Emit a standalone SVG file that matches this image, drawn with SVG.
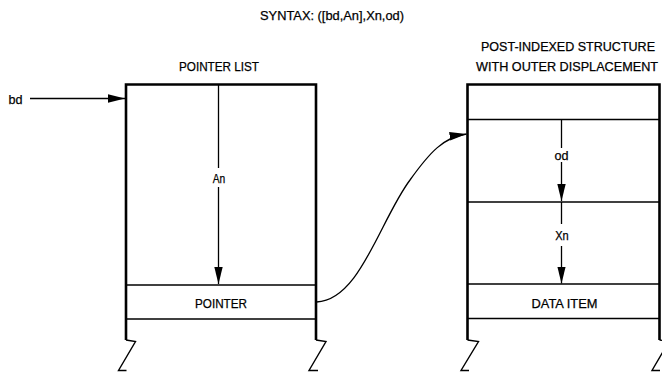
<svg xmlns="http://www.w3.org/2000/svg" width="662" height="373" viewBox="0 0 662 373">
<defs>
<marker id="ah" markerUnits="userSpaceOnUse" markerWidth="18" markerHeight="10" viewBox="0 0 18 10" refX="17" refY="5" orient="auto">
<path d="M0,0.8 L17,5 L0,9.2 Z" fill="#000"/>
</marker>
</defs>
<style>
.t{font-family:"Liberation Sans",Arial,sans-serif;font-size:13px;fill:#000;stroke:#000;stroke-width:0.25;text-anchor:middle}
.frame{fill:none;stroke:#000;stroke-width:2.6;stroke-linejoin:miter}
.div{fill:none;stroke:#000;stroke-width:1.6}
.ar{fill:none;stroke:#000;stroke-width:1.3;marker-end:url(#ah)}
.ln{fill:none;stroke:#000;stroke-width:1.3}
.zz{fill:none;stroke:#000;stroke-width:1.4;stroke-linejoin:miter}
</style>
<rect width="662" height="373" fill="#fff"/>
<text class="t" x="332" y="19.5" textLength="144" lengthAdjust="spacingAndGlyphs">SYNTAX: ([bd,An],Xn,od)</text>

<g id="pointer-list">
<text class="t" x="219" y="70.5" textLength="80" lengthAdjust="spacingAndGlyphs">POINTER LIST</text>
<path class="frame" d="M126,340 L126,84.5 L316,84.5 L316,340"/>
<path class="zz" d="M126,340 L135.5,341.5 L118.5,370.5 L126.5,370.5"/>
<path class="zz" d="M316,340 L326,341.5 L309,370.5 L318,370.5"/>
<line class="div" x1="126" y1="285" x2="316" y2="285"/>
<line class="div" x1="126" y1="319" x2="316" y2="319"/>
<line class="ar" x1="218.5" y1="85" x2="218.5" y2="284"/>
<rect x="208" y="168" width="21" height="19" fill="#fff"/>
<text class="t" x="219" y="183" textLength="12.5" lengthAdjust="spacingAndGlyphs">An</text>
<text class="t" x="221" y="308" textLength="52" lengthAdjust="spacingAndGlyphs">POINTER</text>
</g>

<g id="post-indexed">
<text class="t" x="568" y="51" font-size="13.5" textLength="174" lengthAdjust="spacingAndGlyphs">POST-INDEXED STRUCTURE</text>
<text class="t" x="567" y="71" font-size="13.5" textLength="182" lengthAdjust="spacingAndGlyphs">WITH OUTER DISPLACEMENT</text>
<path class="frame" d="M467.5,340 L467.5,84.5 L659.5,84.5 L659.5,340"/>
<path class="zz" d="M467.5,340 L478.5,341.5 L461,370.5 L469,370.5"/>
<path class="zz" d="M659.5,340 L669,341.5 L652,370.5 L660,370.5"/>
<line class="div" x1="467.5" y1="119.5" x2="659.5" y2="119.5"/>
<line class="div" x1="467.5" y1="202" x2="659.5" y2="202"/>
<line class="div" x1="467.5" y1="284" x2="659.5" y2="284"/>
<line class="div" x1="467.5" y1="318.5" x2="659.5" y2="318.5"/>
<line class="ln" x1="561.5" y1="119.5" x2="561.5" y2="148"/>
<line class="ar" x1="561.5" y1="162" x2="561.5" y2="201"/>
<text class="t" x="561.5" y="159.5" textLength="14" lengthAdjust="spacingAndGlyphs">od</text>
<line class="ln" x1="561.5" y1="202" x2="561.5" y2="224"/>
<line class="ar" x1="561.5" y1="246" x2="561.5" y2="283.5"/>
<text class="t" x="562" y="239.5" textLength="13.5" lengthAdjust="spacingAndGlyphs">Xn</text>
<text class="t" x="564.5" y="307.5" textLength="66" lengthAdjust="spacingAndGlyphs">DATA ITEM</text>
</g>

<g id="bd-label">
<text class="t" x="15.5" y="104" textLength="14" lengthAdjust="spacingAndGlyphs">bd</text>
</g>

<g id="connectors">
<line class="ar" x1="30" y1="98.5" x2="125" y2="98.5"/>
<path class="ar" d="M316.5,302 C360,300 380,220 410,180 C430,152 444,137 466.5,134"/>
</g>
</svg>
